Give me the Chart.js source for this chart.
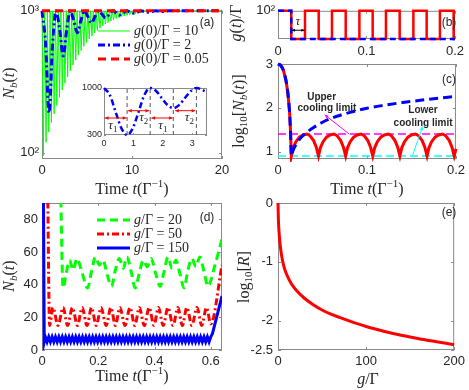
<!DOCTYPE html>
<html lang="en">
<head>
<meta charset="UTF-8">
<title>Nb(t) panels</title>
<script src="https://cdn.jsdelivr.net/npm/chart.js"></script>
<style>
  body { margin: 0; background: #fff; }
  #wrap { position: relative; width: 469px; height: 390px; }
  #wrap canvas { position: absolute; left: 0; top: 0; }
</style>
</head>
<body>
<div id="wrap">
  <canvas id="ca" width="469" height="390"></canvas>
  <canvas id="cin" width="469" height="390"></canvas>
  <canvas id="cb" width="469" height="390"></canvas>
  <canvas id="cc" width="469" height="390"></canvas>
  <canvas id="cd" width="469" height="390"></canvas>
  <canvas id="ce" width="469" height="390"></canvas>
</div>
<script>
// ---- panel (a) ----
const aGreenT = [0, 0.15, 0.3, 0.45, 0.6, 0.75, 0.9, 1.05, 1.2, 1.35,
  1.5, 1.65, 1.8, 1.95, 2.1, 2.25, 2.4, 2.55, 2.7, 2.85,
  3.0, 3.15, 3.3, 3.45, 3.6, 3.75, 3.9, 4.05, 4.2, 4.35,
  4.5, 4.65, 4.8, 4.95, 5.1, 5.25, 5.4, 5.55, 5.7, 5.85,
  6.0, 6.15, 6.3, 6.45, 6.6, 6.75, 6.9, 7.05, 7.2, 7.35,
  7.5, 7.65, 7.8, 7.95, 8.1, 8.25, 8.4, 8.55, 8.7, 8.85,
  9.0, 9.15, 9.3, 9.45, 9.6, 9.75, 9.9, 10.05, 10.2, 10.35,
  10.5, 10.65, 10.8, 10.95, 11.1, 11.25, 11.4, 20];
const aGreenN = [1000, 95, 1000, 118, 1000, 140, 1000, 163, 1000, 188,
  1000, 215, 1000, 245, 1000, 276, 1000, 308, 1000, 342,
  1000, 377, 1000, 413, 1000, 450, 1000, 487, 1000, 524,
  1000, 561, 1000, 597, 1000, 632, 1000, 665, 1000, 697,
  1000, 727, 1000, 755, 1000, 781, 1000, 805, 1000, 827,
  1000, 847, 1000, 865, 1000, 881, 1000, 895, 1000, 908,
  1000, 919, 1000, 929, 1000, 938, 1000, 946, 1000, 953,
  1000, 959, 1000, 964, 1000, 969, 1000, 1000];
const aBlueT = [0, 0.39, 0.785, 1.18, 1.57, 1.96, 2.36, 2.75, 3.14, 3.53, 3.93, 4.32, 4.71,
  5.1, 5.5, 5.89, 6.28, 6.68, 7.07, 7.46, 7.85, 8.25, 8.64, 9.03, 9.42, 9.82, 10.2, 10.6, 11.0,
  11.4, 11.8, 12.2, 12.6, 13.0, 13.4, 13.7, 14.1, 20];
const aBlueN = [1000, 595, 190, 595, 1000, 740, 480, 740, 1000, 850, 700, 850, 1000,
  910, 820, 910, 1000, 945, 890, 945, 1000, 968, 935, 968, 1000, 981, 962, 981, 1000,
  989, 978, 989, 1000, 994, 988, 994, 1000, 1000];
const aRedT = [0, 20];
const aRedN = [1000, 1000];
const aXTicks = [0, 10, 20], aXLabels = ['0', '10', '20'];
const aYTicks = [100, 1000], aYLabels = ['10²', '10³'];
const aLegend = ['10', '2', '0.05'];

// ---- inset of (a) ----
const inT = [0, 0.2, 0.39, 0.59, 0.785, 0.98, 1.18, 1.37, 1.57, 1.77, 1.96, 2.16, 2.36, 2.55, 2.75, 2.95, 3.14, 3.34, 3.5];
const inN = [1000, 894, 650, 403, 300, 403, 650, 894, 1000, 955, 850, 745, 700, 745, 850, 955, 1000, 972, 935];
const inMarks = [0.785, 1.57, 2.355, 3.14];
const inXTicks = [0, 1, 2, 3], inYTicks = [300, 1000];

// ---- panel (b) ----
const bRedT = [0, 0.015, 0.015, 0.0305, 0.0305, 0.046, 0.046, 0.061, 0.061, 0.0765, 0.0765, 0.092, 0.092, 0.107,
  0.107, 0.122, 0.122, 0.1375, 0.1375, 0.153, 0.153, 0.168, 0.168, 0.183, 0.183, 0.1985, 0.1985, 0.2];
const bRedG = [100, 100, 0, 0, 100, 100, 0, 0, 100, 100, 0, 0, 100, 100,
  0, 0, 100, 100, 0, 0, 100, 100, 0, 0, 100, 100, 0, 0];
const bBlueT = [0, 0.015, 0.015, 0.2];
const bBlueG = [100, 100, 0, 0];
const bXTicks = [0, 0.1, 0.2], bXLabels = ['0', '0.1', '0.2'];
const bYTicks = [100], bYLabels = ['10²'];

// ---- panel (c) ----
const cRedT = [0, 0.003, 0.006, 0.009, 0.011, 0.013, 0.014, 0.015,
  0.017, 0.020, 0.024, 0.028, 0.0325, 0.036, 0.040, 0.043, 0.0455,
  0.0475, 0.0505, 0.0545, 0.0585, 0.063, 0.0665, 0.0705, 0.0735, 0.076,
  0.078, 0.081, 0.085, 0.089, 0.0935, 0.097, 0.101, 0.104, 0.1065,
  0.1085, 0.1115, 0.1155, 0.1195, 0.124, 0.1275, 0.1315, 0.1345, 0.137,
  0.139, 0.142, 0.146, 0.150, 0.1545, 0.158, 0.162, 0.165, 0.1675,
  0.1695, 0.1725, 0.1765, 0.1805, 0.185, 0.1885, 0.1925, 0.1955, 0.198, 0.2];
const cRedN = [3, 2.97, 2.86, 2.62, 2.35, 1.9, 1.5, 0.9,
  1.08, 1.22, 1.33, 1.38, 1.4, 1.36, 1.25, 1.1, 0.9,
  1.08, 1.22, 1.33, 1.38, 1.4, 1.36, 1.25, 1.1, 0.9,
  1.08, 1.22, 1.33, 1.38, 1.4, 1.36, 1.25, 1.1, 0.9,
  1.08, 1.22, 1.33, 1.38, 1.4, 1.36, 1.25, 1.1, 0.9,
  1.08, 1.22, 1.33, 1.38, 1.4, 1.36, 1.25, 1.1, 0.9,
  1.08, 1.22, 1.33, 1.38, 1.4, 1.36, 1.25, 1.1, 0.9, 1.06];
const cBlueT = [0, 0.003, 0.006, 0.009, 0.011, 0.013, 0.014, 0.015, 0.017, 0.02, 0.025, 0.03,
  0.04, 0.05, 0.06, 0.07, 0.08, 0.1, 0.12, 0.14, 0.16, 0.18, 0.2];
const cBlueN = [3, 2.97, 2.86, 2.62, 2.35, 1.9, 1.5, 0.9, 1.03, 1.15, 1.3, 1.4,
  1.55, 1.67, 1.76, 1.83, 1.89, 1.99, 2.06, 2.12, 2.17, 2.22, 2.26];
const cUpper = 1.4, cLower = 0.9;
const cYTicks = [1, 2, 3];

// ---- panel (d) ----
const dGreenT = [0.066, 0.075,
  0.086, 0.098, 0.111, 0.124, 0.143, 0.162,
  0.176, 0.19, 0.204, 0.217, 0.232, 0.247,
  0.261, 0.275, 0.289, 0.302, 0.317, 0.331,
  0.346, 0.36, 0.374, 0.388, 0.404, 0.42,
  0.434, 0.448, 0.462, 0.476, 0.49, 0.505,
  0.519, 0.533, 0.547, 0.561, 0.576, 0.59,
  0.615, 0.64];
const dGreenN = [100, 38,
  47, 55, 49, 56, 47, 38,
  48, 57, 52, 55, 46, 39,
  49, 56, 50, 57, 48, 38,
  47, 55, 51, 56, 47, 39,
  48, 57, 50, 55, 47, 38,
  49, 56, 51, 57, 48, 39,
  52, 68];
const dRedT = [0.02, 0.027, 0.039, 0.057, 0.075, 0.091, 0.108, 0.126, 0.143, 0.160, 0.176, 0.193,
  0.210, 0.228, 0.245, 0.261, 0.277, 0.295, 0.313, 0.330, 0.346, 0.364, 0.381, 0.398, 0.414,
  0.431, 0.448, 0.466, 0.483, 0.499, 0.515, 0.533, 0.551, 0.568, 0.585, 0.600, 0.64];
const dRedN = [100, 15, 26, 15, 26, 15, 26, 15, 26, 15, 26, 15,
  26, 15, 26, 15, 26, 15, 26, 15, 26, 15, 26, 15, 26,
  15, 26, 15, 26, 15, 26, 15, 26, 15, 26, 16, 52];
const dBlueT = [0.005, 0.008,
  0.012, 0.018, 0.024, 0.030, 0.036, 0.042, 0.048, 0.054, 0.060, 0.066,
  0.072, 0.078, 0.084, 0.090, 0.096, 0.102, 0.108, 0.114, 0.120, 0.126,
  0.132, 0.138, 0.144, 0.150, 0.156, 0.162, 0.168, 0.174, 0.180, 0.186,
  0.192, 0.198, 0.204, 0.210, 0.216, 0.222, 0.228, 0.234, 0.240, 0.246,
  0.252, 0.258, 0.264, 0.270, 0.276, 0.282, 0.288, 0.294, 0.300, 0.306,
  0.312, 0.318, 0.324, 0.330, 0.336, 0.342, 0.348, 0.354, 0.360, 0.366,
  0.372, 0.378, 0.384, 0.390, 0.396, 0.402, 0.408, 0.414, 0.420, 0.426,
  0.432, 0.438, 0.444, 0.450, 0.456, 0.462, 0.468, 0.474, 0.480, 0.486,
  0.492, 0.498, 0.504, 0.510, 0.516, 0.522, 0.528, 0.534, 0.540, 0.546,
  0.552, 0.558, 0.564, 0.570, 0.576, 0.582, 0.588, 0.594, 0.600,
  0.606, 0.64];
const dBlueN = [100, 5,
  8, 5, 8, 5, 8, 5, 8, 5, 8, 5,
  8, 5, 8, 5, 8, 5, 8, 5, 8, 5,
  8, 5, 8, 5, 8, 5, 8, 5, 8, 5,
  8, 5, 8, 5, 8, 5, 8, 5, 8, 5,
  8, 5, 8, 5, 8, 5, 8, 5, 8, 5,
  8, 5, 8, 5, 8, 5, 8, 5, 8, 5,
  8, 5, 8, 5, 8, 5, 8, 5, 8, 5,
  8, 5, 8, 5, 8, 5, 8, 5, 8, 5,
  8, 5, 8, 5, 8, 5, 8, 5, 8, 5,
  8, 5, 8, 5, 8, 5, 8, 5, 8,
  10, 33];
const dXTicks = [0, 0.2, 0.4, 0.6], dXLabels = ['0', '0.2', '0.4', '0.6'];
const dYTicks = [0, 20, 40, 60, 80];
const dLegend = ['20', '50', '150'];

// ---- panel (e) ----
const eG = [0, 0.5, 1, 2, 3, 5, 7.5, 10, 15, 20, 30, 40, 50, 60, 80, 100, 120, 140, 160, 180, 200];
const eLogR = [0, -0.3, -0.45, -0.65, -0.78, -0.97, -1.12, -1.22, -1.37, -1.47, -1.62, -1.73, -1.82,
  -1.89, -2.0, -2.1, -2.18, -2.25, -2.31, -2.36, -2.41];
const eXTicks = [0, 100, 200];
const eYTicks = [-2.5, -2, -1, 0], eYLabels = ['-2.5', '-2', '-1', '0'];

// ---- helpers ----
const SERIF = '"Liberation Serif"', SANS = '"Liberation Sans"';
const INK = '#262626', AXIS = '#8a8a8a';
const fs = (px, it) => (it ? 'italic ' : '') + px + 'px ' + SERIF;

function pts(xs, ys) { return xs.map((x, i) => ({ x: x, y: ys[i] })); }

function rich(ctx, x, y, segs, align, rot) {
  ctx.save();
  ctx.translate(x, y);
  if (rot) ctx.rotate(rot);
  let w = 0;
  segs.forEach(s => { ctx.font = s[1]; w += ctx.measureText(s[0]).width; });
  let cx = align === 'left' ? 0 : -w / 2;
  ctx.fillStyle = INK;
  ctx.textBaseline = 'middle';
  ctx.textAlign = 'left';
  segs.forEach(s => {
    ctx.font = s[1];
    ctx.fillText(s[0], cx, s[2] || 0);
    cx += ctx.measureText(s[0]).width;
  });
  ctx.restore();
}

function plain(ctx, x, y, txt, font, color) {
  ctx.save();
  ctx.font = font; ctx.fillStyle = color || INK;
  ctx.textAlign = 'center'; ctx.textBaseline = 'middle';
  ctx.fillText(txt, x, y);
  ctx.restore();
}

function arrow(ctx, x1, y1, x2, y2, color, head, both) {
  ctx.save();
  ctx.strokeStyle = color; ctx.fillStyle = color; ctx.lineWidth = 1;
  ctx.beginPath(); ctx.moveTo(x1, y1); ctx.lineTo(x2, y2); ctx.stroke();
  const tip = (xa, ya, xb, yb) => {
    const g = Math.atan2(yb - ya, xb - xa);
    ctx.beginPath();
    ctx.moveTo(xb, yb);
    ctx.lineTo(xb - head * Math.cos(g - 0.45), yb - head * Math.sin(g - 0.45));
    ctx.lineTo(xb - head * Math.cos(g + 0.45), yb - head * Math.sin(g + 0.45));
    ctx.closePath(); ctx.fill();
  };
  tip(x1, y1, x2, y2);
  if (both) tip(x2, y2, x1, y1);
  ctx.restore();
}

function legendRow(ctx, x1, x2, y, st, segs) {
  ctx.save();
  ctx.strokeStyle = st.borderColor; ctx.lineWidth = st.borderWidth;
  ctx.setLineDash(st.borderDash || []);
  ctx.beginPath(); ctx.moveTo(x1, y); ctx.lineTo(x2, y); ctx.stroke();
  ctx.restore();
  rich(ctx, x2 + 4, y, segs, 'left');
}

// box and inward ticks, drawn under the data like MATLAB
const frame = {
  id: 'frame',
  beforeDraw(chart, args, o) {
    if (!o.fill) return;
    const a = chart.chartArea, ctx = chart.ctx;
    ctx.save(); ctx.fillStyle = o.fill;
    ctx.fillRect(a.left, a.top, a.width, a.height);
    ctx.restore();
  },
  beforeDatasetsDraw(chart, args, o) {
    const { ctx, chartArea: a, scales } = chart;
    const len = o.tick || 3;
    ctx.save();
    ctx.strokeStyle = AXIS; ctx.lineWidth = 1;
    ctx.strokeRect(a.left + 0.5, a.top + 0.5, a.width - 1, a.height - 1);
    ctx.beginPath();
    scales.x.ticks.forEach(t => {
      const p = Math.round(scales.x.getPixelForValue(t.value)) + 0.5;
      ctx.moveTo(p, a.bottom); ctx.lineTo(p, a.bottom - len);
      ctx.moveTo(p, a.top); ctx.lineTo(p, a.top + len);
    });
    scales.y.ticks.forEach(t => {
      const p = Math.round(scales.y.getPixelForValue(t.value)) + 0.5;
      ctx.moveTo(a.left, p); ctx.lineTo(a.left + len, p);
      ctx.moveTo(a.right, p); ctx.lineTo(a.right - len, p);
    });
    ctx.stroke();
    ctx.restore();
  }
};

function axis(type, min, max, ticks, labels, size, pad) {
  return {
    type: type, min: min, max: max,
    afterBuildTicks: s => { s.ticks = ticks.map(v => ({ value: v })); },
    grid: { display: false, drawTicks: false },
    border: { display: false },
    ticks: {
      font: { family: 'Liberation Sans', size: size }, color: INK, padding: pad,
      maxRotation: 0, autoSkip: false,
      callback: (v, i) => labels ? labels[i] : String(v)
    }
  };
}

// box = [left, top, right, bottom] of the plot area in page pixels
function make(id, box, xs, ys, datasets, extra, frameOpt) {
  xs.afterFit = s => { s.height = 390 - box[3]; };
  ys.afterFit = s => { s.width = box[0]; };
  return new Chart(document.getElementById(id), {
    type: 'line',
    data: { datasets: datasets },
    options: {
      responsive: false, animation: false, events: [],
      layout: { autoPadding: false, padding: { left: 0, top: box[1], right: 469 - box[2], bottom: 0 } },
      plugins: { legend: { display: false }, tooltip: { enabled: false }, frame: frameOpt || {} },
      scales: { x: xs, y: ys },
      elements: { point: { radius: 0 }, line: { tension: 0 } }
    },
    plugins: [frame, extra]
  });
}

const sty = {
  aGreen: { borderColor: '#00ff00', borderWidth: 1, borderDash: [] },
  aBlue: { borderColor: '#0000ff', borderWidth: 3, borderDash: [7, 3, 2, 3] },
  aRed: { borderColor: '#ff0000', borderWidth: 3, borderDash: [8, 5] },
  dGreen: { borderColor: '#00ff00', borderWidth: 3, borderDash: [8, 5] },
  dRed: { borderColor: '#ff0000', borderWidth: 3, borderDash: [7, 3, 2, 3] },
  dBlue: { borderColor: '#0000ff', borderWidth: 3, borderDash: [] }
};
function ds(xs, ys, st, more) { return Object.assign({ data: pts(xs, ys), fill: false }, st, more || {}); }

const timeTitle = [['Time ', fs(16)], ['t', fs(16, 1)], ['(Γ', fs(16)], ['−1', fs(11), -6], [')', fs(16)]];
const nbTitle = [['N', fs(16, 1)], ['b', fs(11, 1), 4], ['(', fs(16)], ['t', fs(16, 1)], [')', fs(16)]];
const UP = -Math.PI / 2;

// ---- (a) ----
make('ca', [42, 6, 222, 159],
  axis('linear', 0, 20, aXTicks, aXLabels, 13, 4),
  axis('logarithmic', 90, 1000, aYTicks, aYLabels, 13, 3),
  [ds(aRedT, aRedN, sty.aRed, { clip: 4 }),
   ds(aBlueT, aBlueN, sty.aBlue, { clip: 4, cubicInterpolationMode: 'monotone' }),
   ds(aGreenT, aGreenN, sty.aGreen, { clip: 4 })],
  { id: 'extraA', afterDraw(c) {
    const ctx = c.ctx;
    const rows = [sty.aGreen, sty.aBlue, sty.aRed];
    rows.forEach((st, i) => legendRow(ctx, 98, 130, 31 + i * 14, st,
      [['g', fs(14, 1)], ['(0)/Γ = ' + aLegend[i], fs(14)]]));
    plain(ctx, 207, 23, '(a)', '12px ' + SANS);
    rich(ctx, 10, 83, nbTitle, 'center', UP);
    rich(ctx, 132, 190, timeTitle, 'center');
  } });

// ---- inset ----
const inMarkPts = [];
inMarks.forEach(m => { inMarkPts.push({ x: m, y: 300 }, { x: m, y: 1000 }, { x: m, y: null }); });
make('cin', [104, 88, 207, 135],
  axis('linear', 0, 3.5, inXTicks, null, 9, 3),
  axis('linear', 300, 1000, inYTicks, null, 9, 2),
  [ds(inT, inN, { borderColor: '#0000ff', borderWidth: 2.5, borderDash: [6, 3, 2, 3] }, { clip: 3, cubicInterpolationMode: 'monotone' }),
   { data: inMarkPts, borderColor: '#555', borderWidth: 1, borderDash: [4, 3], spanGaps: false }],
  { id: 'extraIn', afterDraw(c) {
    const ctx = c.ctx, X = v => c.scales.x.getPixelForValue(v), Y = v => c.scales.y.getPixelForValue(v);
    const spans = [[0.03, 0.76, 553], [0.82, 1.53, 662], [1.61, 2.33, 553], [2.42, 3.1, 662]];
    spans.forEach(s => arrow(ctx, X(s[0]), Y(s[2]), X(s[1]), Y(s[2]), '#ff0000', 4, true));
    const tau = (t, v, n) => rich(ctx, X(t), Y(v), [['τ', fs(13, 1)], [n, fs(9), 4]], 'center');
    tau(0.3, 434, '1'); tau(1.35, 553, '2'); tau(2.0, 434, '1'); tau(2.9, 553, '2');
  } }, { fill: '#ffffff', tick: 2 });

// ---- (b) ----
make('cb', [278, 7, 457, 39],
  axis('linear', 0, 0.2, bXTicks, bXLabels, 13, 5),
  axis('linear', 0, 100, bYTicks, bYLabels, 13, 3),
  [ds(bBlueT, bBlueG, { borderColor: '#0000ff', borderWidth: 2.5, borderDash: [6, 4] }, { clip: 3 }),
   ds(bRedT, bRedG, { borderColor: '#ff0000', borderWidth: 2.5 }, { clip: 3 })],
  { id: 'extraB', afterDraw(c) {
    const ctx = c.ctx, X = v => c.scales.x.getPixelForValue(v), Y = v => c.scales.y.getPixelForValue(v);
    arrow(ctx, X(0.0155), Y(31), X(0.030), Y(31), '#000', 3.5, true);
    rich(ctx, X(0.0225), Y(62), [['τ', fs(13, 1)]], 'center');
    plain(ctx, 449, 23, '(b)', '12px ' + SANS);
    rich(ctx, 237, 23, [['g', fs(16, 1)], ['(', fs(16)], ['t', fs(16, 1)], [')/Γ', fs(16)]], 'center', UP);
  } });

// ---- (c) ----
make('cc', [278, 64, 457, 159],
  axis('linear', 0, 0.2, bXTicks, bXLabels, 13, 4),
  axis('linear', 0.83, 3, cYTicks, null, 13, 5),
  [ds(cBlueT, cBlueN, { borderColor: '#0000ff', borderWidth: 3, borderDash: [9, 5] }, { clip: 3, cubicInterpolationMode: 'monotone' }),
   ds(cRedT, cRedN, { borderColor: '#ff0000', borderWidth: 3 }, { clip: 3 }),
   ds([0, 0.2], [cUpper, cUpper], { borderColor: '#ff00ff', borderWidth: 1.5, borderDash: [8, 4] }),
   ds([0, 0.2], [cLower, cLower], { borderColor: '#00ffff', borderWidth: 1.5, borderDash: [8, 4] })],
  { id: 'extraC', afterDraw(c) {
    const ctx = c.ctx, X = v => c.scales.x.getPixelForValue(v), Y = v => c.scales.y.getPixelForValue(v);
    const bold = 'bold 10px ' + SANS;
    plain(ctx, X(0.049), Y(2.25), 'Upper', bold);
    plain(ctx, X(0.055), Y(1.99), 'cooling limit', bold);
    plain(ctx, X(0.163), Y(1.95), 'Lower', bold);
    plain(ctx, X(0.163), Y(1.65), 'cooling limit', bold);
    arrow(ctx, X(0.080), Y(cUpper), X(0.0525), Y(1.84), '#ff00ff', 4, false);
    arrow(ctx, X(0.151), Y(cLower), X(0.1624), Y(1.57), '#00ffff', 4, false);
    plain(ctx, 449, 80, '(c)', '12px ' + SANS);
    rich(ctx, 240, 111, [['log', fs(16)], ['10', fs(11), 4], ['[', fs(16)], ['N', fs(16, 1)], ['b', fs(11, 1), 4],
      ['(', fs(16)], ['t', fs(16, 1)], [')]', fs(16)]], 'center', UP);
    rich(ctx, 367, 190, timeTitle, 'center');
  } });

// ---- (d) ----
make('cd', [42, 203, 222, 350],
  axis('linear', 0, 0.64, dXTicks, dXLabels, 13, 4),
  axis('linear', 0, 90, dYTicks, null, 13, 4),
  [ds(dBlueT, dBlueN, sty.dBlue),
   ds(dRedT, dRedN, sty.dRed, { cubicInterpolationMode: 'monotone' }),
   ds(dGreenT, dGreenN, sty.dGreen, { cubicInterpolationMode: 'monotone' })],
  { id: 'extraD', afterDraw(c) {
    const ctx = c.ctx;
    const rows = [sty.dGreen, sty.dRed, sty.dBlue];
    rows.forEach((st, i) => legendRow(ctx, 97, 130, 220 + i * 14, st,
      [['g', fs(14, 1)], ['/Γ = ' + dLegend[i], fs(14)]]));
    plain(ctx, 207, 218, '(d)', '12px ' + SANS);
    rich(ctx, 10, 276, nbTitle, 'center', UP);
    rich(ctx, 132, 377, timeTitle, 'center');
  } });

// ---- (e) ----
make('ce', [278, 203, 457, 350],
  axis('linear', 0, 200, eXTicks, null, 13, 4),
  axis('linear', -2.5, 0, eYTicks, eYLabels, 13, 5),
  [ds(eG, eLogR, { borderColor: '#ff0000', borderWidth: 3 }, { clip: 3, cubicInterpolationMode: 'monotone' })],
  { id: 'extraE', afterDraw(c) {
    const ctx = c.ctx;
    plain(ctx, 449, 213, '(e)', '12px ' + SANS);
    rich(ctx, 245, 277, [['log', fs(16)], ['10', fs(11), 4], ['[', fs(16)], ['R', fs(16, 1)], [']', fs(16)]], 'center', UP);
    rich(ctx, 368, 380, [['g', fs(16, 1)], ['/Γ', fs(16)]], 'center');
  } });
</script>
</body>
</html>
